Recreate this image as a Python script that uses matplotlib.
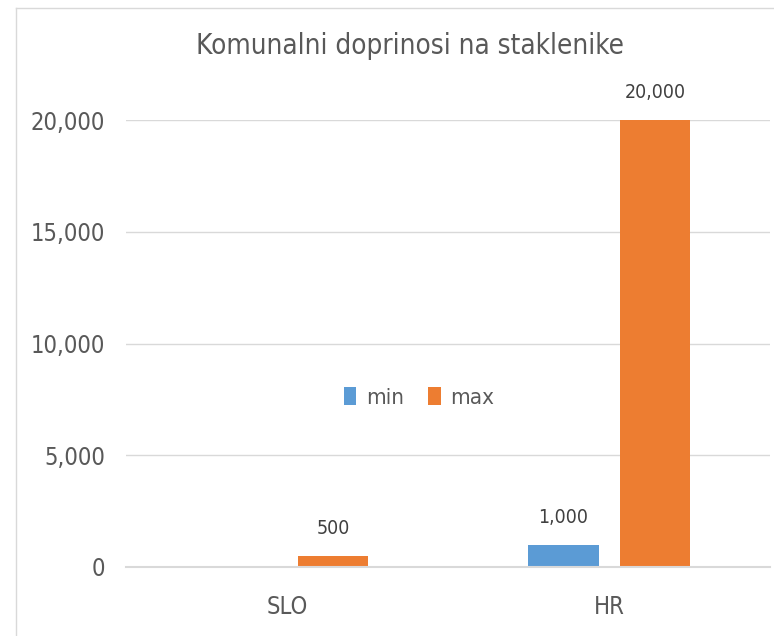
import numpy as np
import matplotlib.pyplot as plt

# the original uses a squeezed Calibri, condensed DejaVu is the closest here
plt.rcParams['font.family'] = ['DejaVu Sans']
plt.rcParams['font.stretch'] = 'condensed'

# data
categories = ["SLO", "HR"]
series_names = ["min", "max"]
min_vals = [0, 1000]
max_vals = [500, 20000]
colors = ["#5B9BD5", "#ED7D31"]
text_col = "#595959"

fig = plt.figure(figsize=(7.74, 6.36), dpi=100)
ax = fig.add_axes([0.163, 0.1085, 0.832, 0.7025])

x = np.arange(len(categories))
w = 0.218
off = 0.142
b1 = ax.bar(x - off, min_vals, w, color=colors[0], label=series_names[0], zorder=3)
b2 = ax.bar(x + off, max_vals, w, color=colors[1], label=series_names[1], zorder=3)

# data labels (no label for zero values)
for bars, vals in [(b1, min_vals), (b2, max_vals)]:
    for r, v in zip(bars, vals):
        if v == 0:
            continue
        ax.annotate(f"{v:,}", (r.get_x() + r.get_width() / 2, v),
                    xytext=(0, 13), textcoords="offset points",
                    ha="center", va="bottom", fontsize=14, color="#404040")

ax.set_xlim(-0.5, 1.5)
ax.set_ylim(0, 20000)
ax.set_yticks(np.arange(0, 20001, 5000))
ax.yaxis.set_major_formatter(plt.FuncFormatter(lambda v, p: f"{int(v):,}"))
ax.set_xticks(x)
ax.set_xticklabels(categories)
ax.tick_params(length=0, labelsize=17, colors=text_col)
ax.tick_params(axis="x", pad=20)
ax.tick_params(axis="y", pad=15)
ax.grid(axis="y", color="#D9D9D9", linewidth=1, zorder=0)
ax.axhline(0, color="#D9D9D9", linewidth=1.5, zorder=4, clip_on=False)
for s in ax.spines.values():
    s.set_visible(False)

ax.legend(loc="center", bbox_to_anchor=(0.455, 0.38), ncol=2, frameon=False,
          fontsize=16, labelcolor=text_col, handlelength=0.55, handleheight=0.9,
          handletextpad=0.45, columnspacing=1.1)

fig.text(0.53, 0.928, "Komunalni doprinosi na staklenike", ha="center", va="center",
         fontsize=20, color=text_col, fontweight="light")

# chart border (left and top edges are visible)
fig.add_artist(plt.Line2D([16 / 774, 16 / 774], [0, 1 - 8 / 636], transform=fig.transFigure,
                          color="#D9D9D9", linewidth=1))
fig.add_artist(plt.Line2D([16 / 774, 1], [1 - 8 / 636, 1 - 8 / 636], transform=fig.transFigure,
                          color="#D9D9D9", linewidth=1))

fig.savefig("out.png", dpi=100)
